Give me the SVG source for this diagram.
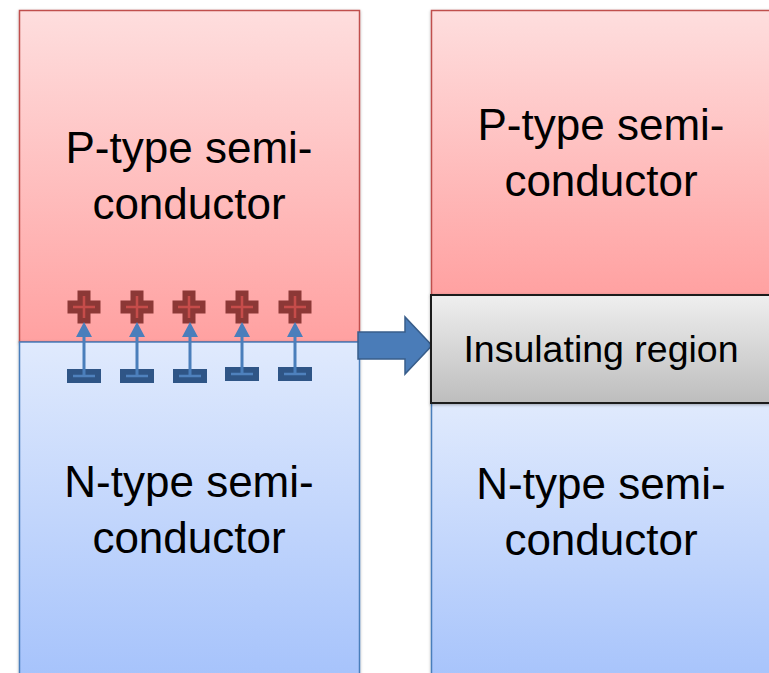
<svg xmlns="http://www.w3.org/2000/svg" width="769" height="673" viewBox="0 0 769 673">
  <defs>
    <linearGradient id="gP" x1="0" y1="0" x2="0" y2="1">
      <stop offset="0" stop-color="#fedede"/>
      <stop offset="1" stop-color="#ffa1a1"/>
    </linearGradient>
    <linearGradient id="gN" x1="0" y1="0" x2="0" y2="1">
      <stop offset="0" stop-color="#e0eafd"/>
      <stop offset="1" stop-color="#a2c0fb"/>
    </linearGradient>
    <linearGradient id="gI" x1="0" y1="0" x2="0" y2="1">
      <stop offset="0" stop-color="#efefef"/>
      <stop offset="1" stop-color="#bdbdbd"/>
    </linearGradient>
    <filter id="sh" x="-10%" y="-10%" width="120%" height="120%">
      <feDropShadow dx="0" dy="1" stdDeviation="1.5" flood-color="#000" flood-opacity="0.3"/>
    </filter>
    <path id="plus" d="M-6.5,-16.5 H6.5 V-6.5 H16.5 V6.5 H6.5 V16.5 H-6.5 V6.5 H-16.5 V-6.5 H-6.5 Z"/>
  </defs>
  <style>
    .p { fill: url(#gP); stroke: #c0504d; stroke-width: 1.5; }
    .n { fill: url(#gN); stroke: #4a7ebb; stroke-width: 1.5; }
    .ins { fill: url(#gI); stroke: #1a1a1a; stroke-width: 2; }
    .t { font-family: "Liberation Sans", Arial, sans-serif; font-size: 44px; fill: #000; text-anchor: middle; }
    .ti { font-family: "Liberation Sans", Arial, sans-serif; font-size: 37.5px; fill: #000; text-anchor: middle; }
    .plus { fill: #8c3836; }
    .plusin { stroke: #c64c4a; stroke-width: 2.5; fill: none; }
    .minus { fill: #2f5586; }
    .minusin { stroke: #4f81bd; stroke-width: 2.5; fill: none; }
    .field { stroke: #4a7ebb; stroke-width: 3; fill: none; }
    .fhead { fill: #4a7ebb; }
    .big { fill: #4a7cb8; stroke: #385d8a; stroke-width: 1.5; }
  </style>

  <g id="left-p" filter="url(#sh)">
    <rect class="p" x="19.5" y="10.5" width="340" height="331.5"/>
  </g>
  <g id="left-n" filter="url(#sh)">
    <rect class="n" x="19.5" y="342" width="340" height="360"/>
  </g>
  <g id="left-p-label">
    <text class="t" x="189" y="163">P-type semi-</text>
    <text class="t" x="189" y="219">conductor</text>
  </g>
  <g id="left-n-label">
    <text class="t" x="189" y="497">N-type semi-</text>
    <text class="t" x="189" y="553">conductor</text>
  </g>

  <g id="charges">
    <g transform="translate(84,307)"><use href="#plus" class="plus"/><path class="plusin" d="M-11,0 H11 M0,-11 V11"/></g>
    <g transform="translate(137,307)"><use href="#plus" class="plus"/><path class="plusin" d="M-11,0 H11 M0,-11 V11"/></g>
    <g transform="translate(189,307)"><use href="#plus" class="plus"/><path class="plusin" d="M-11,0 H11 M0,-11 V11"/></g>
    <g transform="translate(242,307)"><use href="#plus" class="plus"/><path class="plusin" d="M-11,0 H11 M0,-11 V11"/></g>
    <g transform="translate(295,307)"><use href="#plus" class="plus"/><path class="plusin" d="M-11,0 H11 M0,-11 V11"/></g>

    <g transform="translate(84,376)"><rect class="minus" x="-17" y="-7" width="34" height="14"/><path class="minusin" d="M-11,0 H11"/></g>
    <g transform="translate(137,376)"><rect class="minus" x="-17" y="-7" width="34" height="14"/><path class="minusin" d="M-11,0 H11"/></g>
    <g transform="translate(190,376)"><rect class="minus" x="-17" y="-7" width="34" height="14"/><path class="minusin" d="M-11,0 H11"/></g>
    <g transform="translate(242,374)"><rect class="minus" x="-17" y="-7" width="34" height="14"/><path class="minusin" d="M-11,0 H11"/></g>
    <g transform="translate(295,374)"><rect class="minus" x="-17" y="-7" width="34" height="14"/><path class="minusin" d="M-11,0 H11"/></g>
  </g>

  <g id="connectors">
    <line class="field" x1="84" y1="375" x2="84" y2="335"/>
    <path class="fhead" d="M84,322 L92,337 L76,337 Z"/>
    <line class="field" x1="137" y1="375" x2="137" y2="335"/>
    <path class="fhead" d="M137,322 L145,337 L129,337 Z"/>
    <line class="field" x1="190" y1="375" x2="190" y2="335"/>
    <path class="fhead" d="M190,322 L198,337 L182,337 Z"/>
    <line class="field" x1="242" y1="373" x2="242" y2="335"/>
    <path class="fhead" d="M242,322 L250,337 L234,337 Z"/>
    <line class="field" x1="295" y1="373" x2="295" y2="335"/>
    <path class="fhead" d="M295,322 L303,337 L287,337 Z"/>
    <path class="big" d="M358,332 H405 V317 L432,345.5 L405,374 V359 H358 Z"/>
  </g>

  <g id="right-p" filter="url(#sh)">
    <rect class="p" x="431.5" y="10.5" width="360" height="284.5"/>
  </g>
  <g id="right-n" filter="url(#sh)">
    <rect class="n" x="431.5" y="403" width="360" height="300"/>
  </g>
  <g id="right-ins" filter="url(#sh)">
    <rect class="ins" x="431" y="295" width="360" height="108"/>
  </g>
  <g id="right-p-label">
    <text class="t" x="601" y="140">P-type semi-</text>
    <text class="t" x="601" y="196">conductor</text>
  </g>
  <g id="right-ins-label">
    <text class="ti" x="601" y="362">Insulating region</text>
  </g>
  <g id="right-n-label">
    <text class="t" x="601" y="499">N-type semi-</text>
    <text class="t" x="601" y="555">conductor</text>
  </g>
</svg>
